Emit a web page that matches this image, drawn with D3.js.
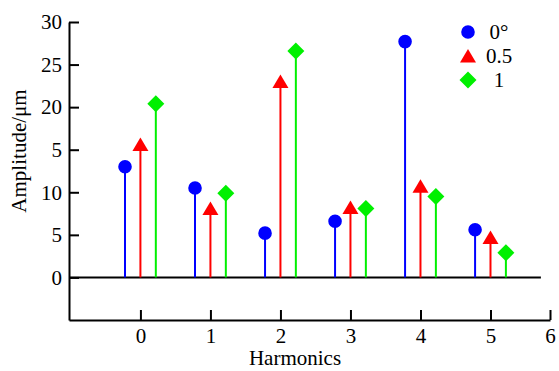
<!DOCTYPE html>
<html>
<head>
<meta charset="utf-8">
<script src="https://cdn.jsdelivr.net/npm/d3@7"></script>
<style>
  body { margin: 0; background: #fff; }
  svg text { font-family: "Liberation Serif", "Times New Roman", serif; fill: #000; }
</style>
</head>
<body>
<svg id="chart" width="559" height="371"></svg>
<script>
// Harmonic orders and the three series
let harmonics = [0, 1, 2, 3, 4, 5];
let seriesNames = ["0°", "0.5", "1"];
let blueValues = [13.0, 10.5, 5.2, 6.6, 27.7, 5.6];
let redValues = [15.6, 8.1, 23.0, 8.2, 10.7, 4.7];
let greenValues = [20.4, 9.9, 26.6, 8.1, 9.5, 2.9];

// Tick labels (as printed in the figure)
let yTickValues = [0, 5, 10, 15, 20, 25, 30];
let yTickLabels = ["0", "5", "10", "5", "20", "25", "30"];
let xTickValues = [0, 1, 2, 3, 4, 5, 5.85];
let xTickLabels = ["0", "1", "2", "3", "4", "5", "6"];

const svg = d3.select("#chart");

// Scales
const x = d3.scaleLinear().domain([-1.02, 5.85]).range([69, 550]);
const y = d3.scaleLinear().domain([-5, 30]).range([320, 22]);

const series = [
  { name: seriesNames[0], values: blueValues, color: "#0000ff", shape: "circle", offset: -0.22 },
  { name: seriesNames[1], values: redValues, color: "#ff0000", shape: "triangle", offset: 0 },
  { name: seriesNames[2], values: greenValues, color: "#00f000", shape: "diamond", offset: 0.22 },
];

// Marker path centered on (0,0)
function markerPath(shape) {
  if (shape === "triangle") return "M0,-7L8,6.5L-8,6.5Z";
  if (shape === "diamond") return "M0,-8.5L8.5,0L0,8.5L-8.5,0Z";
  return "M6.8,0A6.8,6.8 0 1,1 -6.8,0A6.8,6.8 0 1,1 6.8,0Z";
}

// Y axis (ticks pointing inward)
const yAxis = d3.axisLeft(y)
  .tickValues(yTickValues)
  .tickFormat((d, i) => yTickLabels[i])
  .tickSizeInner(-10)
  .tickSizeOuter(0)
  .tickPadding(7);

svg.append("g")
  .attr("transform", "translate(69,0)")
  .call(yAxis)
  .call(g => g.selectAll("path, line").attr("stroke", "#000").attr("stroke-width", 2))
  .call(g => g.selectAll("text").attr("font-size", 21).attr("font-family", "Liberation Serif"));

// X axis at the bottom
const xAxis = d3.axisBottom(x)
  .tickValues(xTickValues)
  .tickFormat((d, i) => xTickLabels[i])
  .tickSizeInner(-10)
  .tickSizeOuter(0)
  .tickPadding(8);

svg.append("g")
  .attr("transform", "translate(0,320)")
  .call(xAxis)
  .call(g => g.selectAll("path, line").attr("stroke", "#000").attr("stroke-width", 2))
  .call(g => g.selectAll("text").attr("font-size", 21).attr("font-family", "Liberation Serif"));

// Zero baseline
svg.append("line")
  .attr("x1", x(-1.02)).attr("x2", x(5.72))
  .attr("y1", y(0)).attr("y2", y(0))
  .attr("stroke", "#000").attr("stroke-width", 2);

// Stems and markers
series.forEach(s => {
  const g = svg.append("g");
  g.selectAll("line.stem")
    .data(harmonics)
    .enter()
    .append("line")
    .attr("class", "stem")
    .attr("x1", d => x(d + s.offset))
    .attr("x2", d => x(d + s.offset))
    .attr("y1", y(0))
    .attr("y2", (d, i) => y(s.values[i]))
    .attr("stroke", s.color)
    .attr("stroke-width", 2);

  g.selectAll("path.marker")
    .data(harmonics)
    .enter()
    .append("path")
    .attr("class", "marker")
    .attr("d", markerPath(s.shape))
    .attr("transform", (d, i) => "translate(" + x(d + s.offset) + "," + y(s.values[i]) + ")")
    .attr("fill", s.color);
});

// Legend
const legend = svg.append("g").attr("transform", "translate(468,32)");
series.forEach((s, i) => {
  legend.append("path")
    .attr("d", markerPath(s.shape))
    .attr("transform", "translate(0," + i * 24 + ")")
    .attr("fill", s.color);
  legend.append("text")
    .attr("x", 31)
    .attr("y", i * 24)
    .attr("dy", "0.35em")
    .attr("text-anchor", "middle")
    .attr("font-size", 21)
    .text(s.name);
});

// Axis titles
svg.append("text")
  .attr("x", 295)
  .attr("y", 365)
  .attr("text-anchor", "middle")
  .attr("font-size", 21)
  .text("Harmonics");

svg.append("text")
  .attr("transform", "translate(26,151) rotate(-90)")
  .attr("text-anchor", "middle")
  .attr("font-size", 21)
  .text("Amplitude/μm");
</script>
</body>
</html>
